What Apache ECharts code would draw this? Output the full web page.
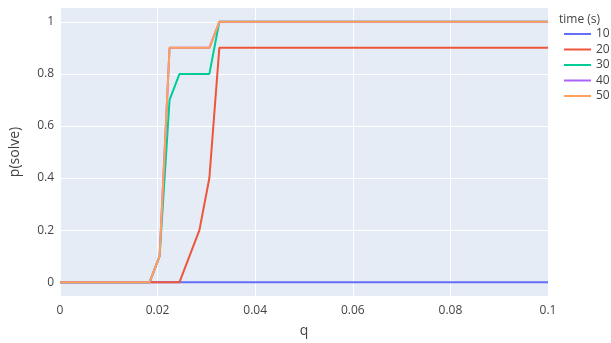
<!DOCTYPE html>
<html>
<head>
<meta charset="utf-8">
<script src="https://cdn.jsdelivr.net/npm/echarts@6/dist/echarts.min.js"></script>
<style>
  html, body { margin: 0; padding: 0; background: #fff; }
  #chart { width: 611px; height: 343px; }
</style>
</head>
<body>
<div id="chart"></div>
<script>
// q values sampled along the x axis
const q = [0, 0.00204, 0.00408, 0.00612, 0.00816, 0.0102, 0.01224, 0.01429, 0.01633, 0.01837,
  0.02041, 0.02245, 0.02449, 0.02653, 0.02857, 0.03061, 0.03265, 0.03469, 0.03673, 0.03878,
  0.04082, 0.04286, 0.0449, 0.04694, 0.04898, 0.05102, 0.05306, 0.0551, 0.05714, 0.05918,
  0.06122, 0.06327, 0.06531, 0.06735, 0.06939, 0.07143, 0.07347, 0.07551, 0.07755, 0.07959,
  0.08163, 0.08367, 0.08571, 0.08776, 0.0898, 0.09184, 0.09388, 0.09592, 0.09796, 0.1];

// p(solve) for each time budget
const p10 = [0, 0, 0, 0, 0, 0, 0, 0, 0, 0,
  0, 0, 0, 0, 0, 0, 0, 0, 0, 0,
  0, 0, 0, 0, 0, 0, 0, 0, 0, 0,
  0, 0, 0, 0, 0, 0, 0, 0, 0, 0,
  0, 0, 0, 0, 0, 0, 0, 0, 0, 0];
const p20 = [0, 0, 0, 0, 0, 0, 0, 0, 0, 0,
  0, 0, 0, 0.1, 0.2, 0.4, 0.9, 0.9, 0.9, 0.9,
  0.9, 0.9, 0.9, 0.9, 0.9, 0.9, 0.9, 0.9, 0.9, 0.9,
  0.9, 0.9, 0.9, 0.9, 0.9, 0.9, 0.9, 0.9, 0.9, 0.9,
  0.9, 0.9, 0.9, 0.9, 0.9, 0.9, 0.9, 0.9, 0.9, 0.9];
const p30 = [0, 0, 0, 0, 0, 0, 0, 0, 0, 0,
  0.1, 0.7, 0.8, 0.8, 0.8, 0.8, 1, 1, 1, 1,
  1, 1, 1, 1, 1, 1, 1, 1, 1, 1,
  1, 1, 1, 1, 1, 1, 1, 1, 1, 1,
  1, 1, 1, 1, 1, 1, 1, 1, 1, 1];
const p40 = [0, 0, 0, 0, 0, 0, 0, 0, 0, 0,
  0.1, 0.9, 0.9, 0.9, 0.9, 0.9, 1, 1, 1, 1,
  1, 1, 1, 1, 1, 1, 1, 1, 1, 1,
  1, 1, 1, 1, 1, 1, 1, 1, 1, 1,
  1, 1, 1, 1, 1, 1, 1, 1, 1, 1];
const p50 = [0, 0, 0, 0, 0, 0, 0, 0, 0, 0,
  0.1, 0.9, 0.9, 0.9, 0.9, 0.9, 1, 1, 1, 1,
  1, 1, 1, 1, 1, 1, 1, 1, 1, 1,
  1, 1, 1, 1, 1, 1, 1, 1, 1, 1,
  1, 1, 1, 1, 1, 1, 1, 1, 1, 1];

const seriesNames = ['10', '20', '30', '40', '50'];
const seriesValues = [p10, p20, p30, p40, p50];
const colors = ['#636efa', '#EF553B', '#00cc96', '#ab63fa', '#FFA15A'];

const yTicks = [0, 0.2, 0.4, 0.6, 0.8, 1];
const xTicks = [0, 0.02, 0.04, 0.06, 0.08, 0.1];

const FONT = '"Open Sans", "Noto Sans", sans-serif';
const TEXT = '#444444';

const chart = echarts.init(document.getElementById('chart'), null, { renderer: 'canvas' });

chart.setOption({
  animation: false,
  color: colors,
  textStyle: { fontFamily: FONT, color: TEXT },
  grid: {
    left: 58, right: 63, top: 8, bottom: 43,
    show: true, backgroundColor: '#E5ECF6', borderWidth: 0
  },
  xAxis: {
    type: 'value', min: 0, max: 0.1,
    name: 'q', nameLocation: 'middle', nameGap: 28,
    nameTextStyle: { fontFamily: FONT, fontSize: 14, color: TEXT },
    axisLine: { show: false },
    axisTick: { show: false, customValues: xTicks },
    axisLabel: {
      customValues: xTicks, fontFamily: FONT, fontSize: 12, color: TEXT, margin: 9,
      formatter: v => String(+v.toFixed(4))
    },
    splitLine: { show: true, lineStyle: { color: '#ffffff', width: 1 } }
  },
  yAxis: {
    type: 'value', min: -0.053, max: 1.053,
    name: 'p(solve)', nameLocation: 'middle', nameGap: 38,
    nameTextStyle: { fontFamily: FONT, fontSize: 14, color: TEXT },
    axisLine: { show: false },
    axisTick: { show: false, customValues: yTicks },
    axisLabel: {
      customValues: yTicks, fontFamily: FONT, fontSize: 12, color: TEXT, margin: 6,
      formatter: v => String(+v.toFixed(4))
    },
    splitLine: { show: true, lineStyle: { color: '#ffffff', width: 1 } }
  },
  legend: {
    orient: 'vertical', left: 563, top: 28, padding: 0,
    itemWidth: 27, itemHeight: 14, itemGap: 3.5,
    itemStyle: { opacity: 0 },
    lineStyle: { width: 2 },
    textStyle: { fontFamily: FONT, fontSize: 12, color: TEXT },
    data: seriesNames
  },
  graphic: [{
    type: 'text', left: 559, top: 14,
    style: { text: 'time (s)', fontFamily: FONT, fontSize: 12, fill: TEXT }
  }],
  series: seriesNames.map((name, i) => ({
    name: name,
    type: 'line',
    data: q.map((x, j) => [x, seriesValues[i][j]]),
    symbol: 'none',
    lineStyle: { width: 2 },
    clip: false,
    z: 2 + i
  }))
});
</script>
</body>
</html>
